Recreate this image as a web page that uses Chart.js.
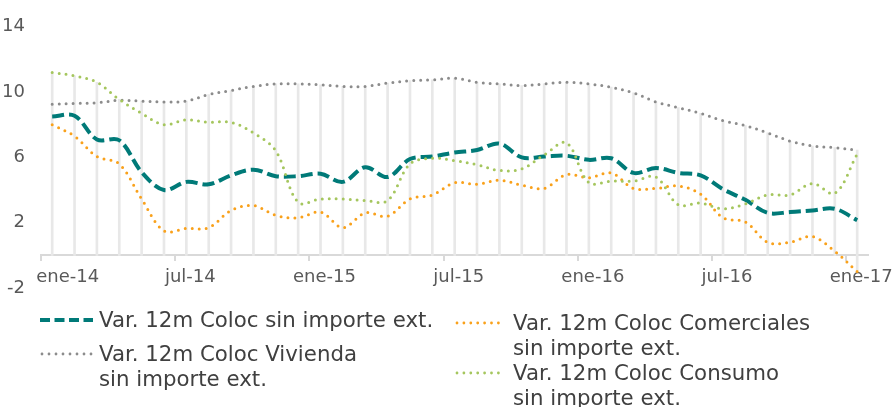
<!DOCTYPE html>
<html lang="es">
<head>
<meta charset="utf-8">
<title>Var. 12m Colocaciones sin importe ext.</title>
<script src="https://cdn.jsdelivr.net/npm/chart.js@4.4.1/dist/chart.umd.min.js"></script>
<style>
  html, body { margin: 0; padding: 0; background: #fff; }
  #wrap { position: relative; width: 895px; height: 407px; overflow: hidden; }
  #chart { position: absolute; left: 0; top: 0; }
  .item { position: absolute; font-family: 'DejaVu Sans', Verdana, sans-serif; font-size: 21.3px;
          line-height: 25px; color: #404040; white-space: nowrap; }
  .item svg { position: absolute; left: 0; top: 9px; }
  .item .txt { position: absolute; top: 0; }
</style>
</head>
<body>
<div id="wrap">
  <canvas id="chart" width="895" height="407"></canvas>
  <div id="legend"></div>
</div>
<script>
'use strict';

const months = [
  'ene-14', 'feb-14', 'mar-14', 'abr-14', 'may-14', 'jun-14', 'jul-14', 'ago-14', 'sep-14', 'oct-14', 'nov-14', 'dic-14',
  'ene-15', 'feb-15', 'mar-15', 'abr-15', 'may-15', 'jun-15', 'jul-15', 'ago-15', 'sep-15', 'oct-15', 'nov-15', 'dic-15',
  'ene-16', 'feb-16', 'mar-16', 'abr-16', 'may-16', 'jun-16', 'jul-16', 'ago-16', 'sep-16', 'oct-16', 'nov-16', 'dic-16',
  'ene-17'
];
const labelEvery = 6;
const yTicks = [-2, 2, 6, 10, 14];

const colocTotal = [8.5, 8.55, 7.1, 7.05, 5.1, 4.0, 4.5, 4.35, 4.9, 5.25, 4.85, 4.85, 5.0, 4.5, 5.4, 4.8, 5.9, 6.05,
  6.3, 6.45, 6.85, 6.0, 6.05, 6.1, 5.85, 5.95, 5.05, 5.35, 5.05, 4.9, 4.05, 3.4, 2.6, 2.65, 2.75, 2.85, 2.15];
const colocVivienda = [9.25, 9.3, 9.35, 9.5, 9.45, 9.4, 9.45, 9.85, 10.1, 10.35, 10.5, 10.5, 10.45, 10.35, 10.35, 10.55, 10.7, 10.75,
  10.85, 10.6, 10.5, 10.4, 10.5, 10.6, 10.5, 10.3, 9.95, 9.4, 9.05, 8.7, 8.25, 7.95, 7.5, 7.0, 6.7, 6.6, 6.45];
const colocComerciales = [8.0, 7.3, 6.05, 5.6, 3.45, 1.5, 1.65, 1.7, 2.75, 3.05, 2.45, 2.3, 2.65, 1.7, 2.6, 2.4, 3.45, 3.7,
  4.45, 4.35, 4.6, 4.3, 4.1, 4.95, 4.75, 5.05, 4.1, 4.1, 4.25, 3.75, 2.3, 2.05, 0.8, 0.8, 1.15, 0.25, -1.0];
const colocConsumo = [11.2, 11.0, 10.6, 9.55, 8.7, 8.0, 8.3, 8.15, 8.15, 7.5, 6.4, 3.25, 3.45, 3.45, 3.35, 3.35, 5.6, 5.95,
  5.8, 5.55, 5.2, 5.3, 6.15, 6.9, 4.45, 4.55, 4.55, 4.8, 3.1, 3.2, 2.85, 3.15, 3.7, 3.7, 4.4, 3.8, 6.2];

const seriesNames = [
  ['Var. 12m Coloc sin importe ext.'],
  ['Var. 12m Coloc Vivienda', 'sin importe ext.'],
  ['Var. 12m Coloc Comerciales', 'sin importe ext.'],
  ['Var. 12m Coloc Consumo', 'sin importe ext.']
];

const TICK_COLOR = '#595959';
const AXIS_COLOR = '#d9d9d9';
const FONT = "'DejaVu Sans', Verdana, sans-serif";

const styles = [
  { color: '#007a78', width: 4, dash: [12, 5], cap: 'butt', sample: '10 4.5' },
  { color: '#8c8c8c', width: 3, dash: [0, 7], cap: 'round', sample: '0 7' },
  { color: '#f9a11b', width: 3, dash: [0, 7], cap: 'round', sample: '0 6.9' },
  { color: '#a5c65e', width: 3, dash: [0, 7], cap: 'round', sample: '0 6.9' }
];

// excel style drop lines: from the highest point of each month down to the axis
const allSeries = [colocTotal, colocVivienda, colocComerciales, colocConsumo];
const dropLines = months.map((m, i) => {
  const vals = allSeries.map(s => s[i]);
  return [Math.min(0, ...vals), Math.max(...vals)];
});

function lineDataset(idx, data) {
  const st = styles[idx];
  return {
    type: 'line',
    label: seriesNames[idx].join(' '),
    data: data,
    borderColor: st.color,
    borderWidth: st.width,
    borderDash: st.dash,
    borderCapStyle: st.cap,
    pointRadius: 0,
    tension: 0.35,
    fill: false,
    order: 3 - idx
  };
}

function renderChart() {
  const ctx = document.getElementById('chart');

  new Chart(ctx, {
    data: {
      labels: months,
      datasets: [
        lineDataset(0, colocTotal),
        lineDataset(1, colocVivienda),
        lineDataset(2, colocComerciales),
        lineDataset(3, colocConsumo),
        {
          type: 'bar',
          label: 'drop',
          data: dropLines,
          backgroundColor: '#e8e8e8',
          borderWidth: 0,
          barThickness: 2,
          order: 10
        }
      ]
    },
    options: {
      responsive: false,
      animation: false,
      events: [],
      layout: { padding: { top: 23, right: 25, bottom: 119, left: 0 } },
      scales: {
        x: {
          type: 'category',
          position: { y: 0 },
          offset: true,
          afterFit: s => { s.height = 0; },
          grid: {
            offset: true,
            drawOnChartArea: false,
            tickLength: 5,
            lineWidth: 2,
            color: c => (c.index % labelEvery === 0 ? AXIS_COLOR : 'rgba(0,0,0,0)')
          },
          border: { display: true, color: AXIS_COLOR, width: 2 },
          ticks: {
            autoSkip: false,
            maxRotation: 0,
            padding: 6,
            labelOffset: 4,
            color: TICK_COLOR,
            font: { family: FONT, size: 18 },
            // first label sits a bit right of its month, like the original
            callback: (v, i) => (i % labelEvery === 0 ? (i === 0 ? '    ' + months[i] : months[i]) : '')
          }
        },
        y: {
          min: -2,
          max: 14,
          afterFit: s => { s.width = 41; },
          afterBuildTicks: s => { s.ticks = yTicks.map(v => ({ value: v })); },
          grid: { display: false, drawTicks: false },
          border: { display: false },
          ticks: {
            padding: 16,
            color: TICK_COLOR,
            font: { family: FONT, size: 18 }
          }
        }
      },
      plugins: {
        legend: { display: false },
        tooltip: { enabled: false }
      }
    }
  });
}

function renderLegend() {
  // two columns: left holds series 0 and 1, right holds 2 and 3
  const pos = [
    { left: 40, top: 307, w: 53, gap: 59 },
    { left: 40, top: 341, w: 53, gap: 59 },
    { left: 455, top: 310, w: 50, gap: 58 },
    { left: 455, top: 360, w: 50, gap: 58 }
  ];
  const box = document.getElementById('legend');
  box.innerHTML = seriesNames.map((lines, i) => {
    const st = styles[i];
    const p = pos[i];
    const sw = st.cap === 'round' ? 2.8 : 4;
    return `
      <div class="item" style="left:${p.left}px;top:${p.top}px;">
        <svg width="${p.w}" height="8"><line x1="${st.cap === 'round' ? 2 : 0}" y1="4" x2="${p.w}" y2="4"
          stroke="${st.color}" stroke-width="${sw}" stroke-linecap="${st.cap}" stroke-dasharray="${st.sample}"/></svg>
        <div class="txt" style="left:${p.gap}px;">${lines.join('<br>')}</div>
      </div>`;
  }).join('');
}

renderChart();
renderLegend();
</script>
</body>
</html>
